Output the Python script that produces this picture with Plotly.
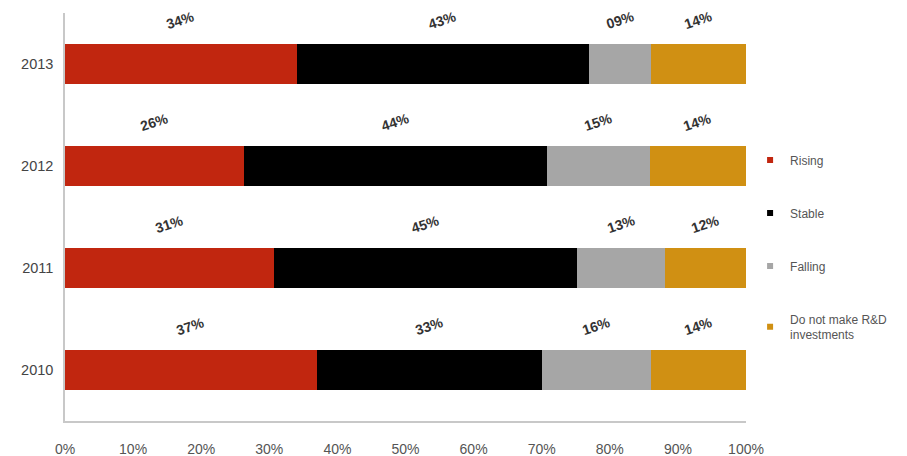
import plotly.graph_objects as go

years = ["2010", "2011", "2012", "2013"]
series_names = ["Rising", "Stable", "Falling", "Do not make R&D<br>investments"]
rising = [37, 31, 26, 34]
stable = [33, 45, 44, 43]
falling = [16, 13, 15, 9]
no_rd = [14, 12, 14, 14]
colors = ["#C1260F", "#000000", "#A6A6A6", "#D09013"]
x_ticks = [0, 10, 20, 30, 40, 50, 60, 70, 80, 90, 100]
x_tick_labels = [f"{v}%" for v in x_ticks]

all_series = [rising, stable, falling, no_rd]

fig = go.Figure()
for name, vals, col in zip(series_names, all_series, colors):
    fig.add_trace(go.Bar(
        y=years, x=vals, orientation="h", name=name,
        marker=dict(color=col, line=dict(width=0)),
        showlegend=False, width=0.4,
    ))

# legend proxies with small square markers
for i, (name, col) in enumerate(zip(series_names, colors)):
    fig.add_trace(go.Scatter(
        x=[None], y=[years[0]], mode="markers", name=name,
        marker=dict(symbol="square", size=6, color=col),
        legendgroup=f"g{i}", showlegend=True,
    ))

# labels above bars, at the segment midpoints (normalized to 100%)
annotations = []
for j, yr in enumerate(years):
    total = sum(s[j] for s in all_series)
    cum = 0
    for s in all_series:
        v = s[j]
        mid = (cum + v / 2) / total * 100
        cum += v
        annotations.append(dict(
            x=mid, y=j, xref="x", yref="y", text=f"<b>{v:02d}%</b>",
            showarrow=False, textangle=-18, yshift=44,
            font=dict(family="Liberation Sans, Arial", size=14, color="#333333"),
        ))

# page body has an 8px margin, so the figure is offset by 8px
fig.update_layout(
    barmode="stack", barnorm="percent",
    width=899, height=448,
    margin=dict(l=57, r=161, t=5, b=35, autoexpand=False),
    plot_bgcolor="white", paper_bgcolor="white",
    font=dict(family="Liberation Sans, Arial", size=13, color="#444444"),
    annotations=annotations,
    legend=dict(
        x=1.006, xanchor="left", y=0.675, yanchor="top",
        traceorder="grouped", tracegroupgap=34,
        font=dict(size=12, color="#555555"),
        itemwidth=30, bgcolor="rgba(0,0,0,0)",
    ),
)
fig.update_xaxes(
    range=[0, 100], tickvals=x_ticks, ticktext=x_tick_labels,
    showgrid=False, zeroline=False, showline=True, linecolor="#c8c8c8",
    linewidth=1.5, ticks="", ticklabelstandoff=14, automargin=False,
    tickfont=dict(size=14, color="#555555"),
)
fig.update_yaxes(
    type="category", categoryorder="array", categoryarray=years,
    range=[-0.5, 3.5],
    showgrid=False, zeroline=False, showline=True, linecolor="#c8c8c8",
    linewidth=1.5, ticks="", ticklabelstandoff=7, automargin=False,
    tickfont=dict(size=14.5, color="#444444"),
)

fig.write_html("out.html")
